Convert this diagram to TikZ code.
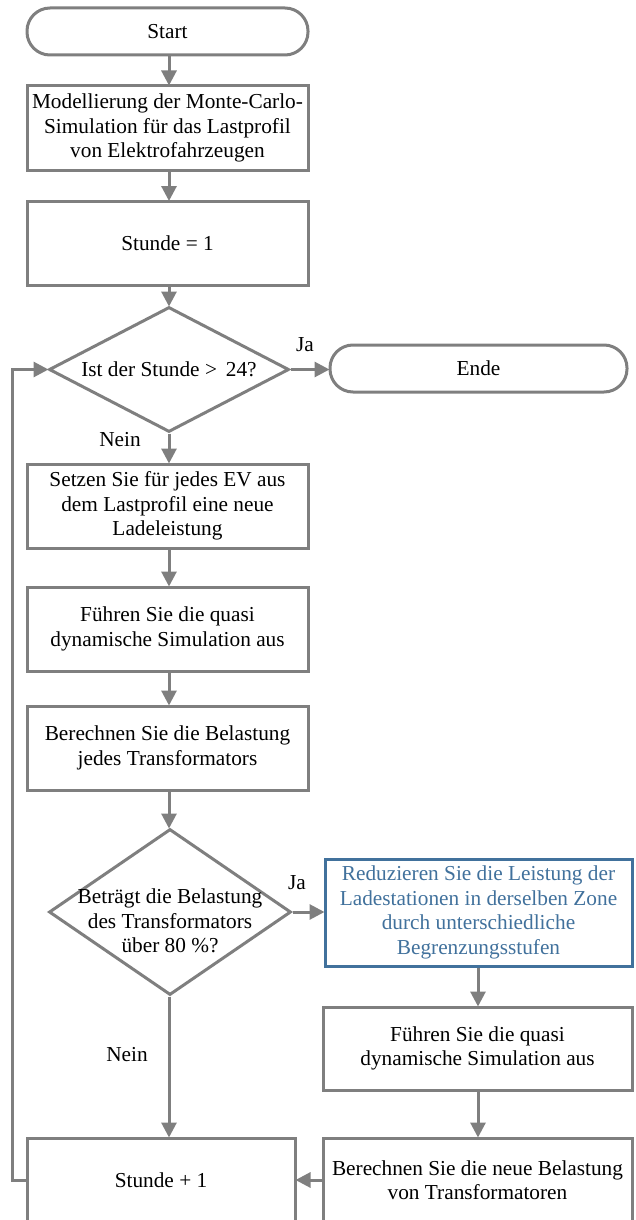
\documentclass[tikz,border=0pt]{standalone}
\usepackage{fontspec}
\setmainfont{Liberation Serif}
\newfontfamily\tnr{Liberation Serif}
\usetikzlibrary{arrows.meta,shapes.geometric}
\definecolor{lg}{RGB}{127,127,127}
\definecolor{bl}{RGB}{65,113,156}
\begin{document}
\begin{tikzpicture}[x=1pt,y=-1pt,
  txt/.style={font=\tnr\fontsize{21.3}{24.5}\selectfont, align=center, inner sep=0pt},
  box/.style={txt, draw=lg, line width=3pt, minimum width=281pt, minimum height=84pt},
  term/.style={txt, draw=lg, line width=3pt, rounded corners=23pt, minimum height=47pt},
  dia/.style={draw=lg, line width=3pt, diamond, inner sep=0pt},
  lbl/.style={font=\tnr\fontsize{21.3}{24}\selectfont, inner sep=0pt},
  arr/.style={draw=lg, line width=3pt, -{Triangle[length=15pt,width=15pt]}, shorten >=-1pt}]
\useasboundingbox (0,0) rectangle (635,1220);
\clip (0,0) rectangle (635,1220);

\node[term, minimum width=281pt] (start) at (167.5,31.5) {Start};
\node[box] (mc) at (167.5,128) {Modellierung der Monte-Carlo-\\Simulation für das Lastprofil\\von Elektrofahrzeugen};
\node[box] (s1) at (167.5,243.5) {Stunde = 1};
\node[dia, minimum width=240pt, minimum height=125pt] (d1) at (169,369.5) {};
\node[txt] (d1t) at (169,369.5) {Ist der Stunde >\, 24?};
\node[term, minimum width=297pt] (ende) at (478.5,368.5) {Ende};
\node[box] (set) at (167.5,506) {Setzen Sie für jedes EV aus\\dem Lastprofil eine neue\\Ladeleistung};
\node[box] (sim) at (167.5,629) {Führen Sie die quasi\\dynamische Simulation aus};
\node[box] (ber) at (167.5,748) {Berechnen Sie die Belastung\\jedes Transformators};
\node[dia, minimum width=242pt, minimum height=166pt] (d2) at (170,912) {};
\node[txt] (d2t) at (170,921) {Beträgt die Belastung\\des Transformators\\über 80 \%?};
\node[box, draw=bl, text=bl, minimum width=307pt, minimum height=107pt] (red) at (478.5,912.5) {Reduzieren Sie die Leistung der\\Ladestationen in derselben Zone\\durch unterschiedliche\\Begrenzungsstufen};
\node[box, minimum width=309pt, minimum height=83pt] (sim2) at (477.5,1048.5) {Führen Sie die quasi\\dynamische Simulation aus};
\node[box, minimum width=309pt, minimum height=84pt] (ber2) at (477.5,1180) {Berechnen Sie die neue Belastung\\von Transformatoren};
\node[box, minimum width=268pt, minimum height=84pt] (plus) at (161,1180) {Stunde + 1};

\node[lbl] (ja1) at (305,345) {Ja};
\node[lbl] (nein1) at (120,440) {Nein};
\node[lbl] (ja2) at (297,883) {Ja};
\node[lbl] (nein2) at (127,1055) {Nein};

\coordinate (c1) at (12,1180);
\coordinate (c2) at (12,369.5);

\draw[arr] (start.south -| d1.north) -- (mc.north -| d1.north);
\draw[arr] (mc.south -| d1.north) -- (s1.north -| d1.north);
\draw[arr] (s1.south -| d1.north) -- (d1.north);
\draw[arr] (d1.east) -- (ende.west |- d1.east);
\draw[arr] (d1.south) -- (set.north -| d1.south);
\draw[arr] (set.south -| d1.south) -- (sim.north -| d1.south);
\draw[arr] (sim.south -| d1.south) -- (ber.north -| d1.south);
\draw[arr] (ber.south -| d1.south) -- (d2.north -| d1.south);
\draw[arr] (d2.east) -- (red.west |- d2.east);
\draw[arr] (red.south -| 478,0) -- (sim2.north -| 478,0);
\draw[arr] (sim2.south -| 478,0) -- (ber2.north -| 478,0);
\draw[arr] (d2.south -| d1.south) -- (plus.north -| d1.south);
\draw[arr] (ber2.west) -- (plus.east);
\draw[arr, rounded corners=0pt] (plus.west) -- (c1) -- (c2) -- (d1.west);
\end{tikzpicture}
\end{document}
